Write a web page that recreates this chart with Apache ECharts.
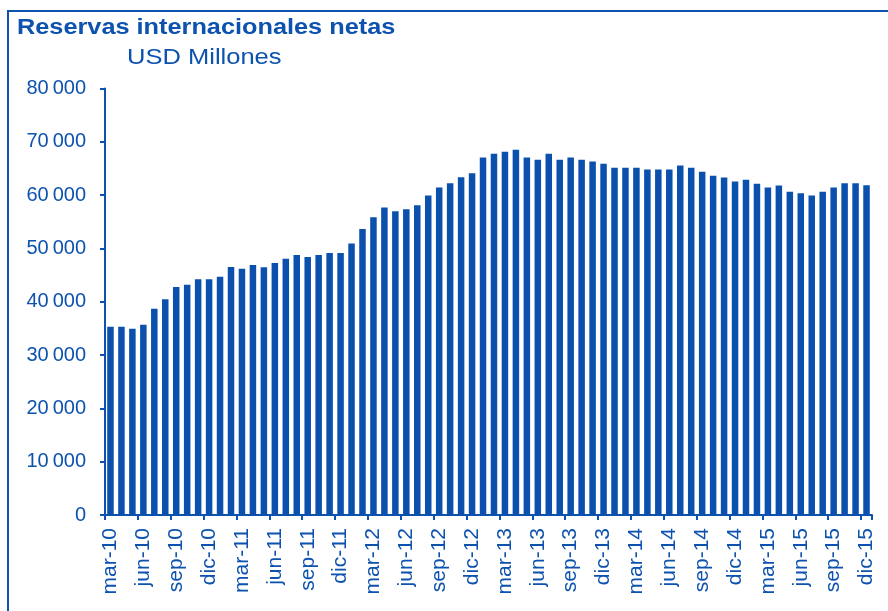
<!DOCTYPE html>
<html lang="es">
<head>
  <meta charset="utf-8"/>
  <title>Reservas internacionales netas</title>
  <script src="https://cdn.jsdelivr.net/npm/echarts@6/dist/echarts.min.js"></script>
  <style>
    html, body { margin: 0; padding: 0; background: #fff; }
    #chart { width: 888px; height: 611px; }
  </style>
</head>
<body>
<div id="chart"></div>
<script>
  // meses (mar-10 .. dic-15)
  var months = [
    'mar-10', 'abr-10', 'may-10', 'jun-10', 'jul-10', 'ago-10', 'sep-10', 'oct-10', 'nov-10', 'dic-10',
    'ene-11', 'feb-11', 'mar-11', 'abr-11', 'may-11', 'jun-11', 'jul-11', 'ago-11', 'sep-11', 'oct-11', 'nov-11', 'dic-11',
    'ene-12', 'feb-12', 'mar-12', 'abr-12', 'may-12', 'jun-12', 'jul-12', 'ago-12', 'sep-12', 'oct-12', 'nov-12', 'dic-12',
    'ene-13', 'feb-13', 'mar-13', 'abr-13', 'may-13', 'jun-13', 'jul-13', 'ago-13', 'sep-13', 'oct-13', 'nov-13', 'dic-13',
    'ene-14', 'feb-14', 'mar-14', 'abr-14', 'may-14', 'jun-14', 'jul-14', 'ago-14', 'sep-14', 'oct-14', 'nov-14', 'dic-14',
    'ene-15', 'feb-15', 'mar-15', 'abr-15', 'may-15', 'jun-15', 'jul-15', 'ago-15', 'sep-15', 'oct-15', 'nov-15', 'dic-15'
  ];

  // RIN, USD millones
  var rin = [
    35300, 35300, 34950, 35700, 38700, 40500, 42800, 43200, 44250, 44250,
    44700, 46550, 46200, 46900, 46500, 47300, 48100, 48800, 48400, 48800, 49150, 49150,
    50950, 53650, 55850, 57700, 57000, 57350, 58100, 59950, 61450, 62250, 63350, 64100,
    67050, 67800, 68150, 68550, 67050, 66650, 67800, 66650, 67050, 66650, 66300, 65900,
    65150, 65150, 65150, 64800, 64800, 64800, 65550, 65150, 64400, 63650, 63300, 62550,
    62900, 62150, 61450, 61800, 60650, 60350, 59950, 60650, 61450, 62250, 62250, 61850
  ];

  var titleText = 'Reservas internacionales netas';
  var subtitleText = 'USD Millones';

  var blue = '#0c52ae';
  var font = '"Liberation Sans", Arial, sans-serif';

  // 80000 -> "80 000" (espacio fino)
  function fmt(v) {
    return String(v).replace(/\B(?=(\d{3})+(?!\d))/g, '\u2009');
  }

  var myChart = echarts.init(document.getElementById('chart'));

  var option = {
    animation: false,
    backgroundColor: '#fff',
    graphic: [
      {
        type: 'rect',
        shape: {x: 8, y: 11, width: 2000, height: 2000},
        style: {fill: 'none', stroke: blue, lineWidth: 2}
      },
      {
        type: 'text',
        x: 17, y: 28, scaleX: 1.15,
        style: {
          text: titleText, fill: blue,
          font: 'bold 22px ' + font,
          verticalAlign: 'middle'
        }
      },
      {
        type: 'text',
        x: 127, y: 58, scaleX: 1.16,
        style: {
          text: subtitleText, fill: blue,
          font: '22px ' + font,
          verticalAlign: 'middle'
        }
      }
    ],
    grid: {left: 105, right: 16, top: 88.6, bottom: 96, containLabel: false},
    xAxis: {
      type: 'category',
      data: months,
      axisLine: {lineStyle: {color: blue, width: 2}},
      axisTick: {show: true, interval: 2, length: 5, lineStyle: {color: blue, width: 2}},
      axisLabel: {
        interval: 2, rotate: 90, margin: 13,
        color: blue, fontSize: 21, fontFamily: font
      }
    },
    yAxis: {
      type: 'value',
      min: 0, max: 80000, interval: 10000,
      splitLine: {show: false},
      axisLine: {show: true, lineStyle: {color: blue, width: 2}},
      axisTick: {show: true, length: 5, lineStyle: {color: blue, width: 2}},
      axisLabel: {
        margin: 19, color: blue, fontSize: 20, fontFamily: font,
        formatter: fmt
      }
    },
    series: [{
      type: 'bar',
      data: rin,
      barWidth: 6.5,
      itemStyle: {color: '#0a50ac'}
    }]
  };

  myChart.setOption(option);
</script>
</body>
</html>
